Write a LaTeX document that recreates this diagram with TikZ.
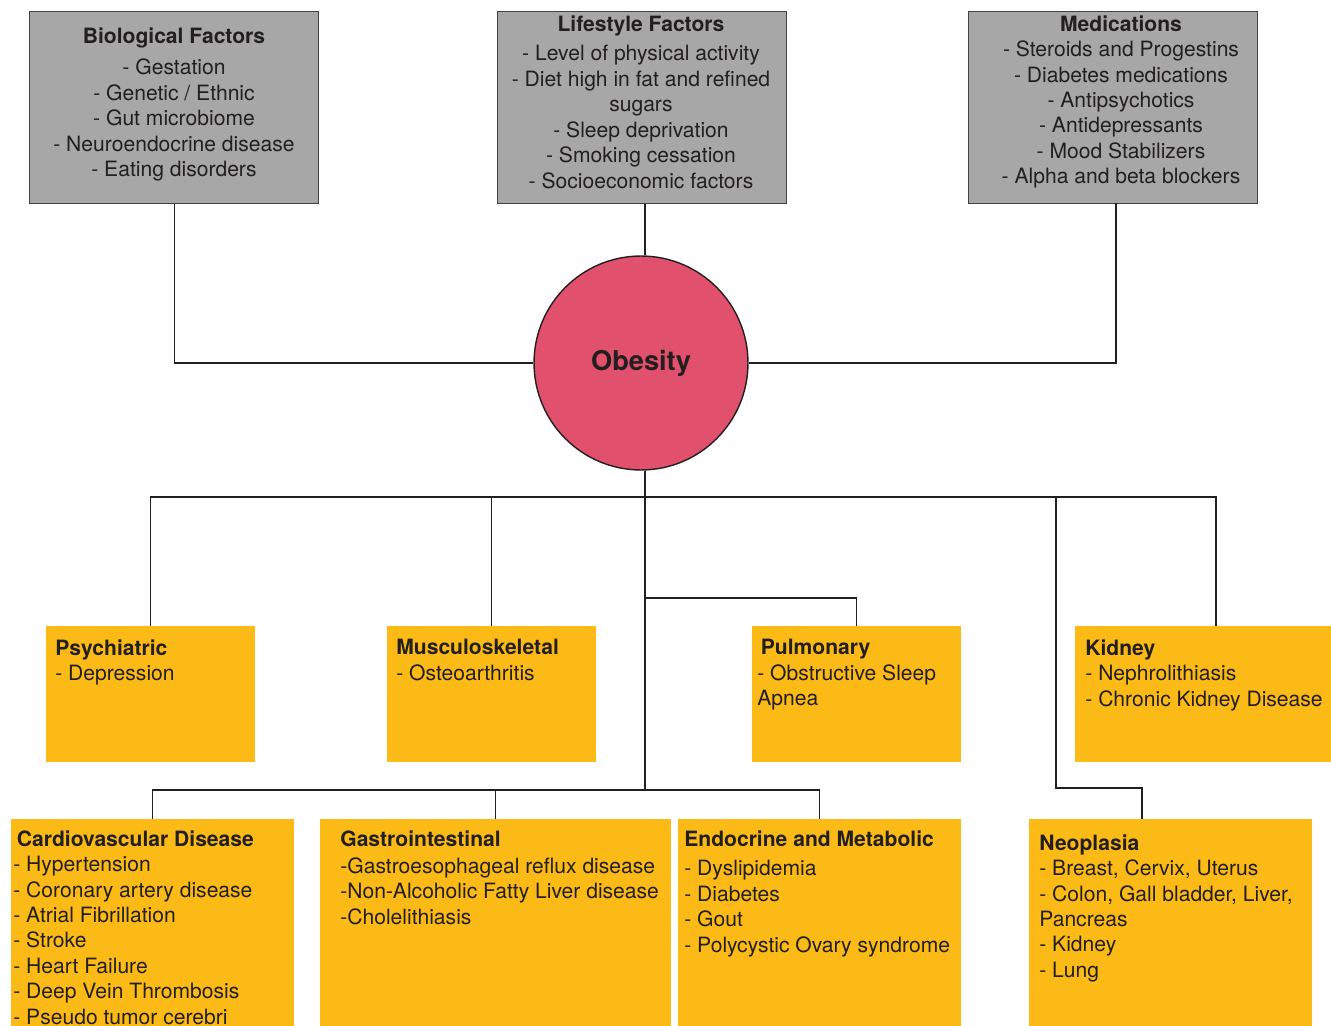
\documentclass[tikz,border=0pt]{standalone}
\usepackage{fontspec}
\setmainfont{TeX Gyre Heros}
\definecolor{boxgray}{HTML}{A7A7A7}
\definecolor{boxyellow}{HTML}{FBBA16}
\definecolor{obesered}{HTML}{E1506C}
\definecolor{inkdark}{HTML}{231F20}
\tikzset{
	factorbox/.style={draw=inkdark!85, line width=0.8pt, fill=boxgray, anchor=north west, inner sep=0pt, minimum width=5.78cm, minimum height=3.84cm},
	rowbox/.style={fill=boxyellow, anchor=north west, inner sep=0pt, minimum height=2.72cm},
	basebox/.style={fill=boxyellow, anchor=north west, inner sep=0pt, minimum height=4.14cm},
	boxtext/.style={text=inkdark, inner sep=0pt, font=\fontsize{12}{14.5}\selectfont},
	hubnode/.style={circle, draw=inkdark, line width=0.8pt, fill=obesered, minimum size=4.28cm, text=inkdark, font=\fontsize{15.5}{18}\selectfont\bfseries},
	wire/.style={draw=inkdark, line width=0.7pt}
}
\begin{document}
\begin{tikzpicture}[x=0.02cm, y=-0.02cm]
	\useasboundingbox (0,0) rectangle (1331,1026);
	% causes
	\node[factorbox] (bio) at (29,11) {};
	\node[factorbox] (life) at (497,11) {};
	\node[factorbox] (med) at (968,11) {};
	\node[hubnode] (obesity) at (641,363) {Obesity};
	% consequences
	\node[rowbox, minimum width=4.18cm] (psy) at (46,626) {};
	\node[rowbox, minimum width=4.18cm] (musc) at (387,626) {};
	\node[rowbox, minimum width=4.18cm] (pul) at (752,626) {};
	\node[rowbox, minimum width=5.12cm] (kid) at (1075,626) {};
	\node[basebox, minimum width=5.66cm] (cvd) at (11,819) {};
	\node[basebox, minimum width=7.02cm] (gi) at (320,819) {};
	\node[basebox, minimum width=5.66cm] (endo) at (678,819) {};
	\node[basebox, minimum width=5.66cm] (neo) at (1029,819) {};
	% texts
	\node[boxtext, align=center, anchor=north] (biotext) at (174,27) {\textbf{Biological Factors}\\[3.6pt]- Gestation\\- Genetic / Ethnic\\- Gut microbiome\\- Neuroendocrine disease\\- Eating disorders};
	\node[boxtext, align=center, anchor=north] (lifetext) at (641,15) {\textbf{Lifestyle Factors}\\[2.5pt]- Level of physical activity\\- Diet high in fat and refined\\sugars\\- Sleep deprivation\\- Smoking cessation\\- Socioeconomic factors};
	\node[boxtext, align=center, anchor=north] (medtext) at (1121,15) {\textbf{Medications}\\- Steroids and Progestins\\- Diabetes medications\\- Antipsychotics\\- Antidepressants\\- Mood Stabilizers\\- Alpha and beta blockers};
	\node[boxtext, align=left, anchor=north west] (psytext) at (55,639) {\textbf{Psychiatric}\\- Depression};
	\node[boxtext, align=left, anchor=north west] (musctext) at (396,639) {\textbf{Musculoskeletal}\\- Osteoarthritis};
	\node[boxtext, align=left, anchor=north west] (pultext) at (757,639) {\hspace*{2pt}\textbf{Pulmonary}\\- Obstructive Sleep\\Apnea};
	\node[boxtext, align=left, anchor=north west] (kidtext) at (1085,639) {\textbf{Kidney}\\- Nephrolithiasis\\- Chronic Kidney Disease};
	\node[boxtext, align=left, anchor=north west] (cvdtext) at (13,830) {\hspace*{2pt}\textbf{Cardiovascular Disease}\\- Hypertension\\- Coronary artery disease\\- Atrial Fibrillation\\- Stroke\\- Heart Failure\\- Deep Vein Thrombosis\\- Pseudo tumor cerebri};
	\node[boxtext, align=left, anchor=north west] (gitext) at (340,830) {\textbf{Gastrointestinal}\\[1pt]-Gastroesophageal reflux disease\\-Non-Alcoholic Fatty Liver disease\\-Cholelithiasis};
	\node[boxtext, align=left, anchor=north west] (endotext) at (684,830) {\textbf{Endocrine and Metabolic}\\[2.5pt]- Dyslipidemia\\- Diabetes\\- Gout\\- Polycystic Ovary syndrome};
	\node[boxtext, align=left, anchor=north west] (neotext) at (1039,834) {\textbf{Neoplasia}\\- Breast, Cervix, Uterus\\- Colon, Gall bladder, Liver,\\Pancreas\\- Kidney\\- Lung};
	% junctions
	\coordinate (medout) at (1116,203);
	\coordinate (hub) at (645,497);
	\coordinate (pulfork) at (645,598);
	\coordinate (trunk) at (645,790);
	\coordinate (kidin) at (1216,626);
	\coordinate (neobend) at (1056,788);
	\coordinate (neoin) at (1142,819);
	% connectors
	\draw [wire] (bio.south) |- (obesity.west);
	\draw [wire] (life.south -| hub) -- (obesity.north -| hub);
	\draw [wire] (medout) |- (obesity.east);
	\draw [wire] (obesity.south -| hub) -- (trunk);
	\draw [wire] (psy.north) |- (hub) -| (kidin);
	\draw [wire] (musc.north) -- (musc.north |- hub);
	\draw [wire] (pulfork) -| (pul.north);
	\draw [wire] (neobend |- hub) -- (neobend) -| (neoin);
	\draw [wire] (cvd.north) |- (trunk) -| (endo.north);
	\draw [wire] (gi.north) -- (gi.north |- trunk);
\end{tikzpicture}
\end{document}
